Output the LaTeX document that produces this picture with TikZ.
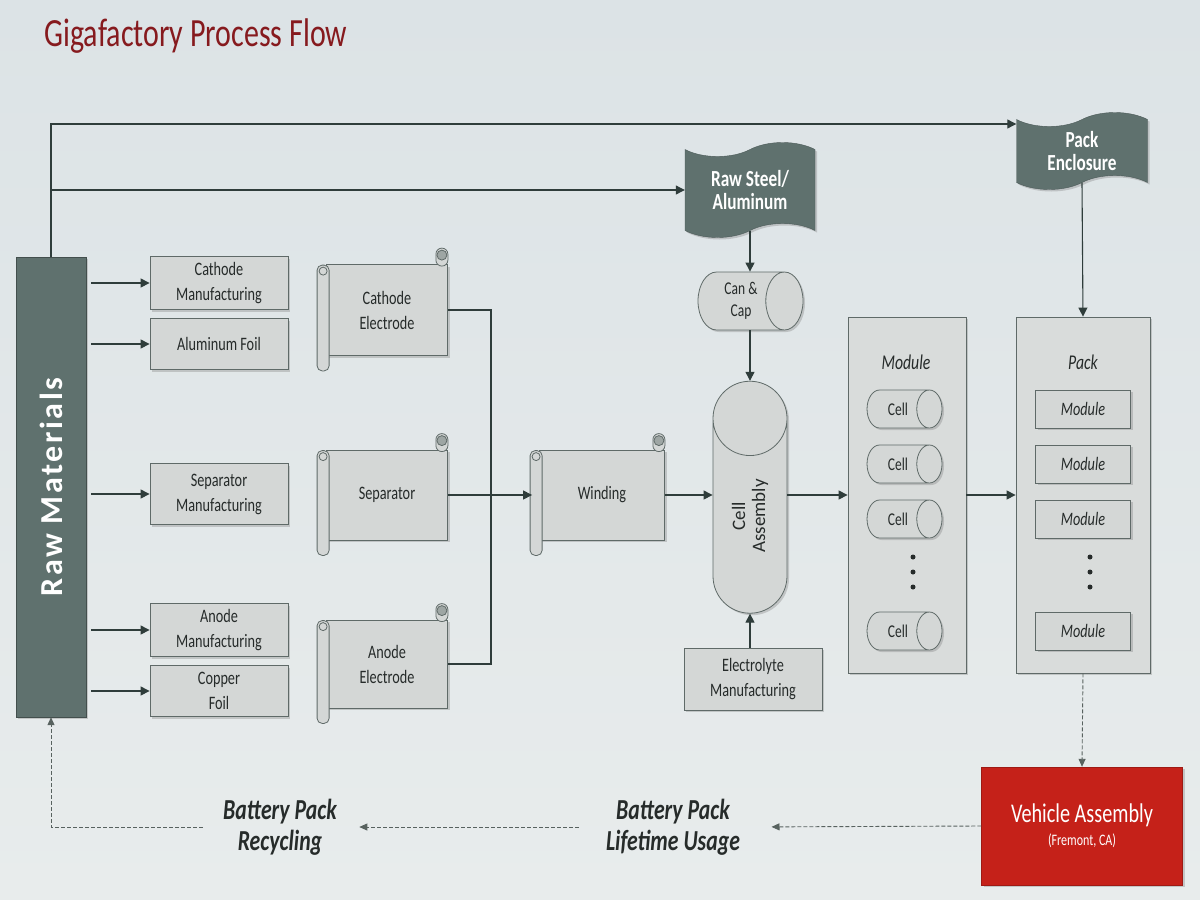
\documentclass[tikz,border=0pt]{standalone}
\usepackage{fontspec}
\setmainfont{Carlito}[FakeStretch=0.75]
\newfontfamily\widefont{Carlito}[LetterSpace=8]
\newfontfamily\rotfont{Carlito}
\usetikzlibrary{arrows.meta,positioning,calc,shadows,shapes.geometric,shapes.symbols}

\definecolor{bgtop}{HTML}{DCE3E6}
\definecolor{bgbot}{HTML}{E8ECEC}
\definecolor{boxfill}{HTML}{D4D7D6}
\definecolor{confill}{HTML}{D9DCDB}
\definecolor{boxline}{HTML}{5F6A68}
\definecolor{darkgreen}{HTML}{5F716E}
\definecolor{lineclr}{HTML}{2F3D3B}
\definecolor{dashclr}{HTML}{58625F}
\definecolor{txt}{HTML}{262B2A}
\definecolor{vehred}{HTML}{C52119}
\definecolor{titlered}{HTML}{861A1E}
\definecolor{curlfill}{HTML}{9EA6A4}

\begin{document}
\begin{tikzpicture}[x=1pt,y=-1pt,
    line/.style={draw=lineclr, line width=1.1pt},
    arr/.style={line, -{Triangle[length=9pt,width=9pt]}},
    dasharr/.style={draw=dashclr, line width=0.9pt, dash pattern=on 4pt off 2pt, -{Triangle[length=8pt,width=7pt]}},
    shad/.style={drop shadow={shadow xshift=2pt,shadow yshift=-2pt,opacity=0.35}},
    box/.style={rectangle, draw=boxline, fill=boxfill, line width=0.8pt, text=txt, align=center,
        inner sep=0pt, font=\fontsize{19}{25}\selectfont, shad},
    container/.style={box, fill=confill},
    scrollln/.style={draw=boxline, line width=0.8pt},
    cyl/.style={cylinder, draw=boxline, line width=0.8pt, fill=boxfill, text=txt, align=center,
        inner sep=0pt, font=\fontsize{18}{22}\selectfont, shad},
    tapebox/.style={tape, tape bend top=in and out, tape bend bottom=in and out, tape bend height=14pt,
        fill=darkgreen, draw=darkgreen!80!black, text=white, align=center, inner sep=0pt,
        font=\bfseries\fontsize{23}{23}\selectfont, shad},
    bottomtxt/.style={text=txt, align=center, font=\bfseries\itshape\fontsize{29}{31}\selectfont}
]
\useasboundingbox (0,0) rectangle (1200,900);
\shade[top color=bgtop, bottom color=bgbot] (0,0) rectangle (1200,900);

\node[anchor=base west, text=titlered, font=\fontsize{40}{40}\selectfont] (title) at (41,46) {Gigafactory Process Flow};

% raw materials bar
\node[rectangle, fill=darkgreen, draw=darkgreen!70!black, minimum width=70, minimum height=460, shad] (raw) at (51,487) {};
\node[rotate=90, text=white, font=\widefont\bfseries\fontsize{32}{32}\selectfont] (rawlbl) at (raw.center) {Raw Materials};

% first column
\node[box, minimum width=138, minimum height=53] (cman) at (219,283) {Cathode\\Manufacturing};
\node[box, minimum width=138, minimum height=51] (alu) at (219,344) {Aluminum Foil};
\node[box, minimum width=138, minimum height=61] (sman) at (219,494) {Separator\\Manufacturing};
\node[box, minimum width=138, minimum height=53] (aman) at (219,630) {Anode\\Manufacturing};
\node[box, minimum width=138, minimum height=51] (cu) at (219,691) {Copper\\Foil};

\foreach \n in {cman,alu,sman,aman,cu}
    \draw[arr, shorten <=5pt] (raw.east |- \n.west) -- (\n.west);

% scrolls
\node[box, minimum width=121, minimum height=91] (cel) at (387,310) {Cathode\\Electrode};
\node[box, minimum width=121, minimum height=90] (sep) at (387,495) {Separator};
\node[box, minimum width=121, minimum height=88] (ael) at (387,664) {Anode\\Electrode};
\node[box, minimum width=125, minimum height=90] (wnd) at (602,495) {Winding};

\foreach \n in {cel,sep,ael,wnd}{
    \draw[scrollln, fill=boxfill, rounded corners=5pt] ($(\n.north west)+(-9,1)$) rectangle ($(\n.south west)+(3,15)$);
    \draw[scrollln] ($(\n.north west)+(-3,7)$) circle (4);
    \draw[scrollln, fill=boxfill, rounded corners=6pt] ($(\n.north east)+(-12,-16)$) rectangle ($(\n.north east)+(0,2)$);
    \draw[scrollln, fill=curlfill] ($(\n.north east)+(-6,-9)$) circle (5);
}

\coordinate (jn) at (491,495);
\draw[line] (cel.east) -| (jn);
\draw[line] (ael.east) -| (jn);
\draw[arr, shorten >=7pt] (sep.east) -- (wnd.west);

% cell assembly
\node[tapebox, minimum width=130, minimum height=95] (steel) at (750,190) {Raw Steel/\\Aluminum};
\node[cyl, minimum width=58, minimum height=105, aspect=1] (can) at (741,301) {Can \&\\Cap};
\node[cyl, rotate=90, minimum width=74, minimum height=232, aspect=2.05,
    font=\rotfont\fontsize{19}{20}\selectfont] (cella) at (750,516) {Cell\\Assembly};
\node[box, minimum width=138, minimum height=62] (elec) at (753,679) {Electrolyte\\Manufacturing};

\draw[arr] (raw.north |- steel.west) -- (steel.west);
\draw[arr] (steel.south) -- (steel.south |- can.north);
\draw[arr] (cella.east |- can.south) -- (cella.east);
\draw[arr] (cella.west |- elec.north) -- (cella.west);
\draw[arr] (wnd.east) -- (wnd.east -| cella.north);

% module
\node[container, minimum width=118, minimum height=356] (modc) at (907,495) {};
\node[text=txt, font=\itshape\fontsize{21}{21}\selectfont] (modt) at (906,362) {Module};
\foreach \y/\i in {409/1,464/2,519/3,631/4}
    \node[cyl, minimum width=38, minimum height=75, aspect=2] (cell\i) at (898,\y) {Cell};
\foreach \y in {557,572,587}
    \fill[txt] (913,\y) circle (2.5);

% pack
\node[container, minimum width=134, minimum height=356] (packc) at (1083,495) {};
\node[text=txt, font=\itshape\fontsize{21}{21}\selectfont] (packt) at (1083,362) {Pack};
\foreach \y/\i in {409/1,464/2,519/3,631/4}
    \node[box, minimum width=95, minimum height=38, font=\itshape\fontsize{19}{19}\selectfont] (mod\i) at (1083,\y) {Module};
\foreach \y in {557,572,587}
    \fill[txt] (1090,\y) circle (2.5);

\node[tapebox, minimum width=131, minimum height=77] (encl) at (1082,151) {Pack\\Enclosure};

\draw[arr] (cella.south |- modc.west) -- (modc.west);
\draw[arr] (modc.east) -- (packc.west);
\draw[arr] (encl.south) -- (packc.north);

\coordinate (ftop) at (51,124);
\draw[arr] (raw.north) -- (ftop) -- (ftop -| encl.west);

% vehicle and life cycle
\node[rectangle, fill=vehred, draw=vehred!80!black, text=white, align=center, minimum width=201, minimum height=118, shad] (veh) at (1082,826)
    {\fontsize{27}{30}\selectfont Vehicle Assembly\\[6pt]\fontsize{16}{18}\selectfont (Fremont, CA)};
\node[bottomtxt] (life) at (673,827) {Battery Pack\\Lifetime Usage};
\node[bottomtxt] (recyc) at (280,827) {Battery Pack\\Recycling};

\draw[dasharr] (packc.south) -- (veh.north);
\draw[dasharr, shorten >=28pt] (veh.west) -- (life.east);
\draw[dasharr, shorten <=24pt, shorten >=19pt] (life.west) -- (recyc.east);
\draw[dasharr, shorten <=17pt] (recyc.west) -| (raw.south);
\end{tikzpicture}
\end{document}
